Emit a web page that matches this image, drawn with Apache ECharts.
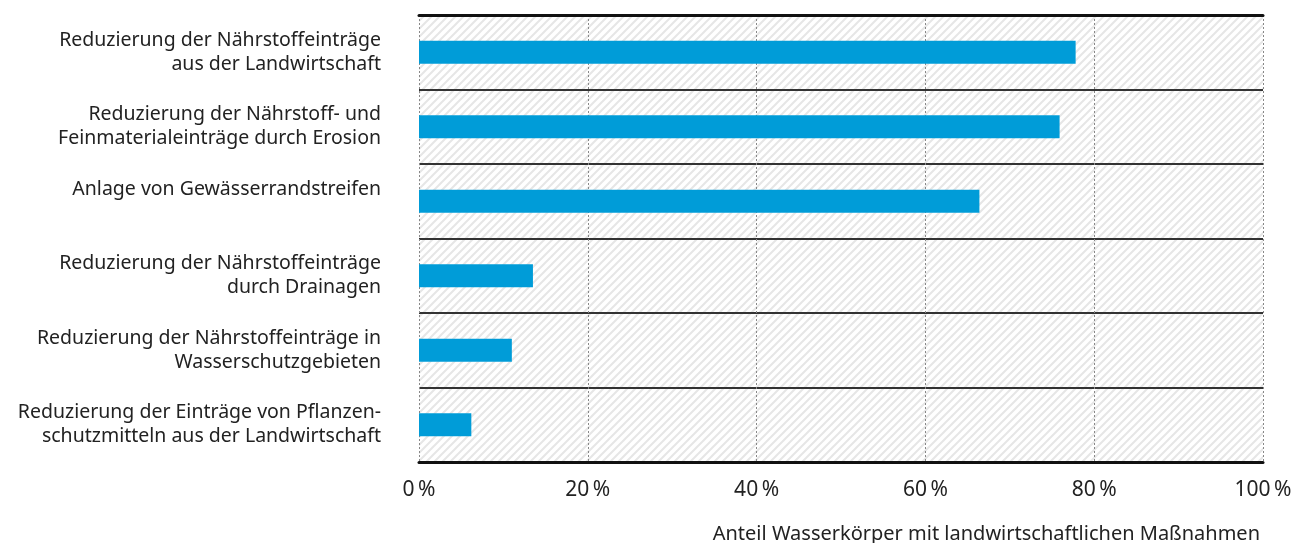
<!DOCTYPE html>
<html>
<head>
<meta charset="utf-8">
<script src="https://cdn.jsdelivr.net/npm/echarts@6/dist/echarts.min.js"></script>
<style>
  html, body { margin: 0; padding: 0; background: #fff; }
  #chart { width: 1296px; height: 543px; }
</style>
</head>
<body>
<div id="chart"></div>
<script>
// categories, top to bottom (two lines each so the first line sits at the same spot)
const categories = [
  'Reduzierung der Nährstoffeinträge\naus der Landwirtschaft',
  'Reduzierung der Nährstoff- und\nFeinmaterialeinträge durch Erosion',
  'Anlage von Gewässerrandstreifen\n ',
  'Reduzierung der Nährstoffeinträge\ndurch Drainagen',
  'Reduzierung der Nährstoffeinträge in\nWasserschutzgebieten',
  'Reduzierung der Einträge von Pflanzen-\nschutzmitteln aus der Landwirtschaft'
];
const shares = [77.8, 75.9, 66.4, 13.5, 11.0, 6.2];
const xTicks = [0, 20, 40, 60, 80, 100];
const axisTitle = 'Anteil Wasserkörper mit landwirtschaftlichen Maßnahmen';

// hatch pattern for the plot background
function makeHatch() {
  const c = document.createElement('canvas');
  c.width = 8; c.height = 8;
  const ctx = c.getContext('2d');
  ctx.fillStyle = '#ffffff';
  ctx.fillRect(0, 0, 8, 8);
  ctx.strokeStyle = '#e6e6e6';
  ctx.lineWidth = 2;
  ctx.beginPath();
  ctx.moveTo(-2, 10); ctx.lineTo(10, -2);
  ctx.moveTo(-6, 6); ctx.lineTo(6, -6);
  ctx.moveTo(2, 14); ctx.lineTo(14, 2);
  ctx.stroke();
  return c;
}

const font = '"Noto Sans", sans-serif';
const chart = echarts.init(document.getElementById('chart'));

chart.setOption({
  animation: false,
  title: {
    text: axisTitle,
    right: 31,
    top: 519,
    textStyle: { fontFamily: font, fontSize: 20, fontWeight: 'normal', color: '#222' }
  },
  grid: {
    left: 419, right: 33, top: 15, bottom: 81,
    show: true,
    borderWidth: 0,
    backgroundColor: { image: makeHatch(), repeat: 'repeat' }
  },
  xAxis: [{
    type: 'value',
    min: 0, max: 100, interval: 20,
    axisLine: { show: true, lineStyle: { color: '#111', width: 3 } },
    axisTick: { show: false },
    axisLabel: {
      margin: 18,
      fontFamily: font, fontSize: 21, color: '#222',
      formatter: v => xTicks.includes(v) ? v + '\u2009%' : ''
    },
    splitLine: { show: true, lineStyle: { color: '#888', type: [2, 2], width: 1 } }
  }, {
    type: 'value', position: 'top',
    min: 0, max: 100,
    axisLine: { show: true, lineStyle: { color: '#111', width: 3 } },
    axisTick: { show: false }, axisLabel: { show: false }, splitLine: { show: false }
  }],
  yAxis: {
    type: 'category',
    data: categories,
    inverse: true,
    axisLine: { show: false },
    axisTick: { show: false },
    axisLabel: {
      margin: 38,
      fontFamily: font, fontSize: 19.5, color: '#222',
      lineHeight: 24, align: 'right',
      padding: [6, 0, 0, 0]
    },
    splitLine: { show: true, lineStyle: { color: '#333', width: 2 } }
  },
  series: [{
    type: 'bar',
    data: shares,
    barWidth: 23,
    itemStyle: { color: '#009cd8' }
  }]
});
</script>
</body>
</html>
